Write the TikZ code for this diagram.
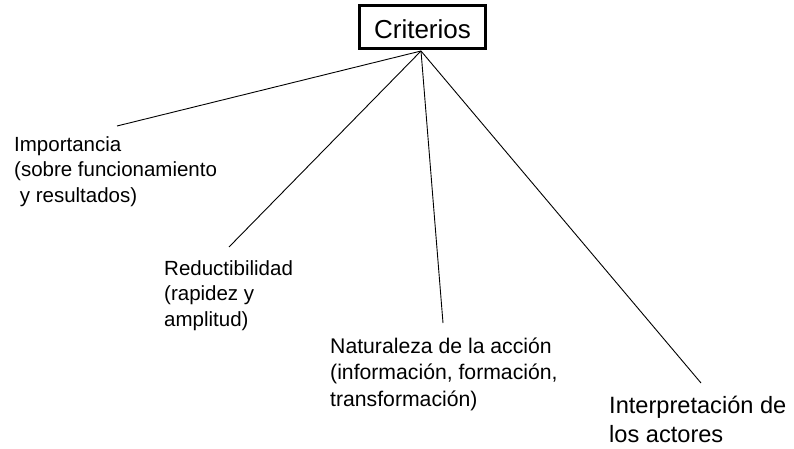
\documentclass[tikz,border=0pt]{standalone}
\usepackage{fontspec}
\setmainfont{Liberation Sans}
\begin{document}
\begin{tikzpicture}[x=1pt,y=-1pt]
  \tikzset{crit/.style={draw,line width=2.4pt,rectangle,minimum width=126pt,minimum height=43pt,inner sep=0pt,text height=23pt,font=\fontsize{26}{30}\selectfont},
           lbl/.style={anchor=base west,align=left,inner sep=0pt,font=\fontsize{20.5}{25.5}\selectfont},
           br/.style={line width=0.9pt}}
  \useasboundingbox (0,0) rectangle (794,449);
  \node[crit] (c) at (422.5,27) {Criterios};
  \coordinate (top) at (421,51);
  \node[lbl] (imp) at (14,202) {Importancia\\(sobre funcionamiento\\ \ y resultados)};
  \node[lbl] (red) at (164,326) {Reductibilidad\\(rapidez y\\amplitud)};
  \node[lbl,font=\fontsize{21.2}{26.5}\selectfont] (nat) at (330,406) {Naturaleza de la acción\\(información, formación,\\transformación)};
  \node[lbl,font=\fontsize{23.6}{29}\selectfont] (int) at (609,442) {Interpretación de\\los actores};
  \coordinate (e1) at (117,126);
  \coordinate (e2) at (229,247);
  \coordinate (e3) at (443,323);
  \coordinate (e4) at (701,383);
  \draw[br] (top)--(e1); \draw[br] (top)--(e2);
  \draw[br] (top)--(e3); \draw[br] (top)--(e4);
\end{tikzpicture}
\end{document}
